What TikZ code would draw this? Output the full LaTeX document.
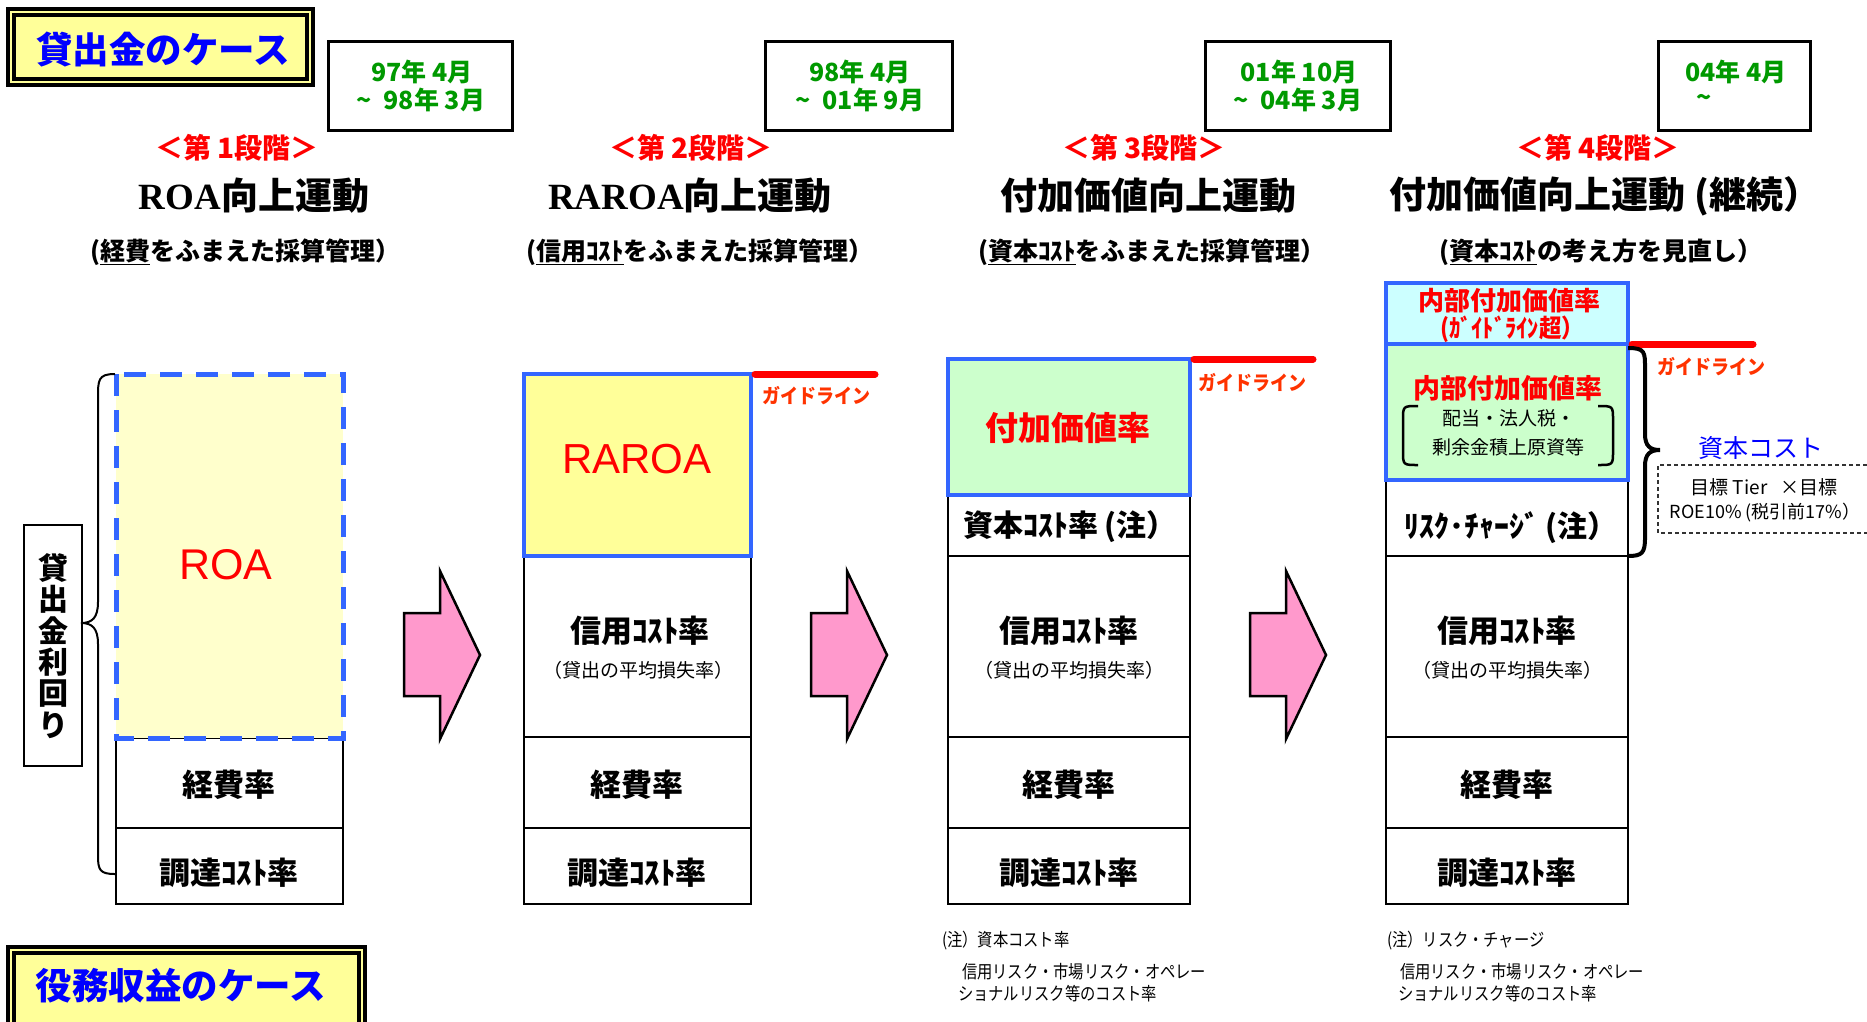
\documentclass[tikz,border=0pt]{standalone}
\usepackage{fontspec}
\setmainfont{Noto Sans CJK JP}
\newfontfamily\jpn{Noto Sans CJK JP}[FakeStretch=0.85]
\newfontfamily\jpg{Noto Sans CJK JP}[FakeStretch=0.9]
\newfontfamily\tnr{Liberation Serif}
\newfontfamily\ari{Liberation Sans}
\newcommand\fsz[1]{\fontsize{#1}{#1}\selectfont}
\definecolor{hyellow}{HTML}{FFFF99}
\definecolor{lyellow}{HTML}{FFFFCC}
\definecolor{lgreen}{HTML}{CCFFCC}
\definecolor{lcyan}{HTML}{CCFFFF}
\definecolor{bblue}{HTML}{3366FF}
\definecolor{hblue}{HTML}{0000FF}
\definecolor{dgreen}{HTML}{009900}
\definecolor{gred}{HTML}{FF3300}
\definecolor{apink}{HTML}{FF99CC}
\begin{document}
\begin{tikzpicture}[x=1pt,y=-1pt,
  lbl/.style={inner sep=0pt, outer sep=0pt},
  cell/.style={draw=black, line width=2.5pt},
  bluecell/.style={draw=bblue, line width=4.5pt},
  guide/.style={draw=red, line width=7pt, line cap=round},
  guidetxt/.style={lbl, text=gred, font=\jpg\bfseries\fsz{20}},
  datebox/.style={draw=black, line width=3pt},
  datetxt/.style={lbl, text=dgreen, font=\bfseries\fsz{25}},
  stage/.style={lbl, text=red, font=\bfseries\fsz{28}},
  ttl/.style={lbl, font=\bfseries\fsz{37}},
  subttl/.style={lbl, font=\bfseries\fsz{25}},
  celltxt/.style={lbl, font=\bfseries\fsz{31}},
  smalltxt/.style={lbl, font=\fsz{19}},
  parrow/.style={draw=black, fill=apink, line width=2.5pt, line join=miter},
  notetxt/.style={lbl, anchor=west, font=\jpn\fsz{18}},
  headtxt/.style={lbl, text=hblue, font=\bfseries\fsz{36.5}},
  bigred/.style={lbl, text=red, font=\ari\fsz{43}},
]
\useasboundingbox (0,0) rectangle (1867,1021);
\fill[white] (0,0) rectangle (1867,1021);

% heading boxes
\fill[hyellow] (6,7) rectangle (315,87);
\draw[line width=4pt] (8,9) rectangle (313,85);
\draw[line width=3.5pt] (14,15) rectangle (307,79);
\node[headtxt] (h1) at (163,50) {貸出金のケース};

\fill[hyellow] (6,945) rectangle (367,1030);
\draw[line width=4pt] (8,947) rectangle (365,1030);
\draw[line width=3.5pt] (14,953) rectangle (359,1030);
\node[headtxt] (h2) at (181,986) {役務収益のケース};

% date boxes
\draw[datebox] (328,41) rectangle (512,130);
\node[datetxt] (d1a) at (422,72) {97年 4月};
\node[datetxt] (d1b) at (421,100) {\textasciitilde\ \ 98年 3月};
\draw[datebox] (765,41) rectangle (952,130);
\node[datetxt] (d2a) at (860,72) {98年 4月};
\node[datetxt] (d2b) at (860,100) {\textasciitilde\ \ 01年 9月};
\draw[datebox] (1205,41) rectangle (1390,130);
\node[datetxt] (d3a) at (1299,72) {01年 10月};
\node[datetxt] (d3b) at (1298,100) {\textasciitilde\ \ 04年 3月};
\draw[datebox] (1658,41) rectangle (1810,130);
\node[datetxt] (d4a) at (1736,72) {04年 4月};
\node[datetxt] (d4b) at (1704,100) {\textasciitilde};

% stage labels and titles
\node[stage] (s1) at (237,148) {＜第 1段階＞};
\node[stage] (s2) at (691,148) {＜第 2段階＞};
\node[stage] (s3) at (1144,148) {＜第 3段階＞};
\node[stage] (s4) at (1598,148) {＜第 4段階＞};
\node[ttl] (t1) at (254,196) {{\tnr ROA}向上運動};
\node[ttl] (t2) at (690,196) {{\tnr RAROA}向上運動};
\node[ttl] (t3) at (1148,196) {付加価値向上運動};
\node[ttl] (t4) at (1605,196) {付加価値向上運動 (継続）};
\node[subttl] (u1) at (245,252) {(\underline{経費}をふまえた採算管理）};
\node[subttl] (u2) at (700,252) {(\underline{信用ｺｽﾄ}をふまえた採算管理）};
\node[subttl] (u3) at (1152,252) {(\underline{資本ｺｽﾄ}をふまえた採算管理）};
\node[subttl] (u4) at (1601,252) {(\underline{資本ｺｽﾄ}の考え方を見直し）};

% column 1
\draw[cell] (116,738) rectangle (343,828);
\draw[cell] (116,828) rectangle (343,904);
\fill[lyellow] (116,374) rectangle (343,738);
\draw[draw=bblue, line width=5pt, dash pattern=on 22pt off 14pt] (116,374) rectangle (343,738);
\node[bigred] (c1a) at (226,565) {ROA};
\node[celltxt] (c1b) at (229,785) {経費率};
\node[celltxt] (c1c) at (229,873) {調達ｺｽﾄ率};

% left brace and vertical label
\draw[line width=2pt] (115,374) .. controls (98,374) and (98,380) .. (98,398) -- (98,602)
  .. controls (98,618) and (92,623) .. (81,623) .. controls (92,623) and (98,628) .. (98,644)
  -- (98,856) .. controls (98,870) and (100,874) .. (115,874);
\draw[line width=2.5pt] (24,525) rectangle (82,766);
\node[lbl, font=\bfseries\fontsize{30}{31.3}\selectfont, align=center] (vl) at (53,646) {貸\\出\\金\\利\\回\\り};

% column 2
\draw[cell] (524,556) rectangle (751,737);
\draw[cell] (524,737) rectangle (751,828);
\draw[cell] (524,828) rectangle (751,904);
\draw[bluecell, fill=hyellow] (524,374) rectangle (751,556);
\node[bigred, font=\ari\fsz{42}] (c2a) at (637,459) {RAROA};
\node[celltxt] (c2b) at (640,631) {信用ｺｽﾄ率};
\node[smalltxt] (c2c) at (638,670) {（貸出の平均損失率）};
\node[celltxt] (c2d) at (637,785) {経費率};
\node[celltxt] (c2e) at (637,873) {調達ｺｽﾄ率};
\draw[guide] (755,374) -- (875,374);
\node[guidetxt] (g2) at (816,396) {ガイドライン};

% column 3
\draw[cell] (948,495) rectangle (1190,556);
\draw[cell] (948,556) rectangle (1190,737);
\draw[cell] (948,737) rectangle (1190,828);
\draw[cell] (948,828) rectangle (1190,904);
\draw[bluecell, fill=lgreen] (948,359) rectangle (1190,495);
\node[lbl, text=red, font=\bfseries\fsz{33}] (c3a) at (1068,428) {付加価値率};
\node[celltxt, font=\bfseries\fsz{30}] (c3b) at (1070,527) {資本ｺｽﾄ率 (注）};
\node[celltxt] (c3c) at (1069,631) {信用ｺｽﾄ率};
\node[smalltxt] (c3d) at (1069,670) {（貸出の平均損失率）};
\node[celltxt] (c3e) at (1069,785) {経費率};
\node[celltxt] (c3f) at (1069,873) {調達ｺｽﾄ率};
\draw[guide] (1194,359) -- (1313,359);
\node[guidetxt] (g3) at (1252,383) {ガイドライン};

% column 4
\draw[cell] (1386,480) rectangle (1628,556);
\draw[cell] (1386,556) rectangle (1628,737);
\draw[cell] (1386,737) rectangle (1628,828);
\draw[cell] (1386,828) rectangle (1628,904);
\draw[bluecell, fill=lgreen] (1386,344) rectangle (1628,480);
\draw[bluecell, fill=lcyan] (1386,283) rectangle (1628,344);
\node[lbl, text=red, font=\bfseries\fsz{26}] (c4a) at (1509,301) {内部付加価値率};
\node[lbl, text=red, font=\jpg\bfseries\fsz{25}] (c4b) at (1512,329) {(ｶﾞｲﾄﾞﾗｲﾝ超）};
\node[lbl, text=red, font=\bfseries\fsz{27}] (c4c) at (1508,388) {内部付加価値率};
\node[smalltxt] (c4d) at (1509,418) {配当・法人税・};
\node[smalltxt] (c4e) at (1508,447) {剰余金積上原資等};
\draw[line width=2.5pt] (1418,406) .. controls (1403,406) .. (1403,420) -- (1403,451) .. controls (1403,465) .. (1418,465);
\draw[line width=2.5pt] (1598,406) .. controls (1613,406) .. (1613,420) -- (1613,451) .. controls (1613,465) .. (1598,465);
\node[celltxt, font=\bfseries\fsz{30}] (c4f) at (1511,528) {ﾘｽｸ･ﾁｬｰｼﾞ (注）};
\node[celltxt] (c4g) at (1507,631) {信用ｺｽﾄ率};
\node[smalltxt] (c4h) at (1507,670) {（貸出の平均損失率）};
\node[celltxt] (c4i) at (1507,785) {経費率};
\node[celltxt] (c4j) at (1507,873) {調達ｺｽﾄ率};
\draw[guide] (1632,344) -- (1753,344);
\node[guidetxt] (g4) at (1711,367) {ガイドライン};

% right brace
\draw[line width=4pt] (1628,348) .. controls (1645,348) and (1645,352) .. (1645,368) -- (1645,434)
  .. controls (1645,446) and (1650,450) .. (1660,450) .. controls (1650,450) and (1645,454) .. (1645,466)
  -- (1645,538) .. controls (1645,553) and (1642,556) .. (1628,556);

% capital cost
\node[lbl, text=hblue, font=\fsz{25}] (cc) at (1761,448) {資本コスト};
\draw[black!80, line width=1.5pt, dash pattern=on 4pt off 3pt] (1867,465) -- (1658,465) -- (1658,533) -- (1867,533);
\node[lbl, font=\fsz{19}] (cc1) at (1764,487) {目標 Tier\ \ \ ×目標};
\node[lbl, font=\fsz{18}] (cc2) at (1765,513) {ROE10\% (税引前17\%）};

% arrows
\draw[parrow] (404,613) -- (440,613) -- (440,571) -- (480,655) -- (440,739) -- (440,696) -- (404,696) -- cycle;
\draw[parrow] (811,613) -- (847,613) -- (847,571) -- (887,655) -- (847,739) -- (847,696) -- (811,696) -- cycle;
\draw[parrow] (1250,613) -- (1286,613) -- (1286,571) -- (1326,655) -- (1286,739) -- (1286,696) -- (1250,696) -- cycle;

% notes
\node[notetxt] (n1) at (942,941) {(注）資本コスト率};
\node[notetxt] (n2) at (962,972) {信用リスク・市場リスク・オペレー};
\node[notetxt] (n3) at (958,994) {ショナルリスク等のコスト率};
\node[notetxt] (n4) at (1387,941) {(注）リスク・チャージ};
\node[notetxt] (n5) at (1400,972) {信用リスク・市場リスク・オペレー};
\node[notetxt] (n6) at (1398,994) {ショナルリスク等のコスト率};
\end{tikzpicture}
\end{document}
